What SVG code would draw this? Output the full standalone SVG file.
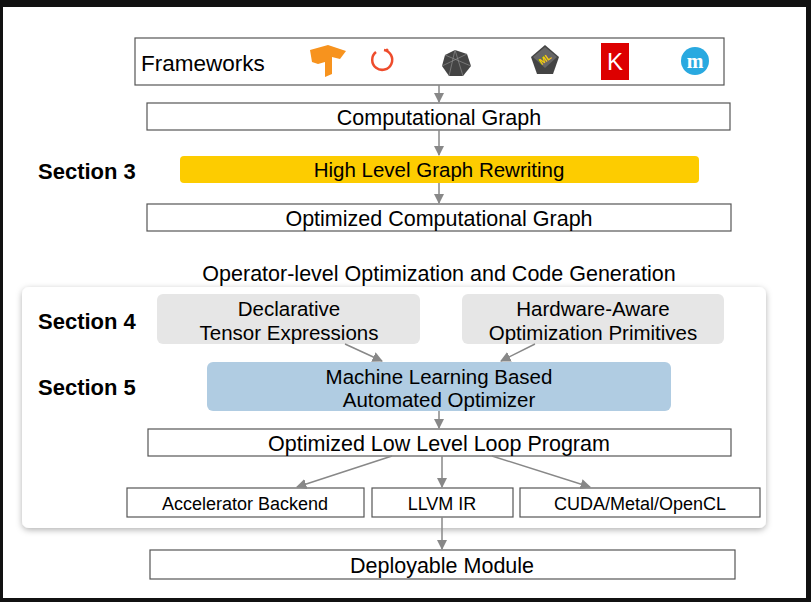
<svg xmlns="http://www.w3.org/2000/svg" width="811" height="602" viewBox="0 0 811 602">
<defs>
<style>
text{font-family:"Liberation Sans",Arial,sans-serif;fill:#000;text-anchor:middle}
.box{fill:#fff;stroke:#555;stroke-width:1.2}
.t{font-size:21.5px}
.m{font-size:20.5px}
.s{font-size:18px}
.sec{font-size:22px;font-weight:bold;text-anchor:start}
.c{stroke:#888;stroke-width:1.5;fill:none;marker-end:url(#ah)}
</style>
<marker id="ah" viewBox="0 0 10 10" refX="9" refY="5" markerWidth="7" markerHeight="7" orient="auto"><path d="M0,0L10,5L0,10z" fill="#888"/></marker>
<filter id="sh" x="-5%" y="-5%" width="110%" height="115%"><feDropShadow dx="0" dy="2" stdDeviation="3" flood-color="#000" flood-opacity="0.3"/></filter>
</defs>
<rect width="811" height="602" fill="#111"/>
<rect x="3" y="7" width="803" height="591" fill="#fff"/>
<g id="panel"><rect x="22" y="287" width="744" height="241" rx="7" fill="#fff" filter="url(#sh)"/></g>
<g id="frameworks">
<rect class="box" x="135" y="38" width="589" height="47"/>
<text x="141" y="71" style="font-size:22.5px;text-anchor:start">Frameworks</text>
<path d="M310,50 L328,45 L346,51 L340,59 L332,57 L332,74 L325,77 L325,62 L318,64 L312,62z" fill="#f7931e"/>
<path d="M384,50 A10,10 0 1 1 376,52" fill="none" stroke="#ee4c2c" stroke-width="2.5"/>
<circle cx="387" cy="50" r="1.5" fill="#ee4c2c"/>
<polygon points="455,50 467,54 471,66 463,76 449,76 442,66 445,55" fill="#444"/>
<path d="M455,50 L449,76 M445,55 L471,66 M467,54 L442,66 M455,50 L463,76" stroke="#999" stroke-width="0.6"/>
<polygon points="545,45 559,57 553,74 537,74 531,57" fill="#444"/>
<polygon points="545,47 557,57 545,68 533,57" fill="#666"/>
<text x="545" y="62" style="font-size:9px;fill:#f5d000;font-weight:bold" transform="rotate(-35 545 59)">ML</text>
<rect x="601" y="43" width="28" height="37" fill="#d00"/>
<text x="615" y="70" style="font-size:24px;fill:#fff">K</text>
<circle cx="695" cy="61" r="14" fill="#29a9e0"/>
<text x="695" y="68" style="font-size:20px;fill:#fff;font-family:'Liberation Serif',serif;font-weight:bold">m</text>
</g>
<g id="compgraph"><rect class="box" x="147" y="103" width="583" height="27"/><text x="439" y="125" class="t">Computational Graph</text></g>
<g id="sec3"><text x="38" y="179" class="sec">Section 3</text></g>
<g id="rewrite"><rect x="180" y="156" width="519" height="27" rx="4" fill="#fdcc00"/><text x="439" y="177" class="m">High Level Graph Rewriting</text></g>
<g id="optgraph"><rect class="box" x="147" y="204" width="584" height="27"/><text x="439" y="226" class="t">Optimized Computational Graph</text></g>
<g id="title"><text x="439" y="281" class="t">Operator-level Optimization and Code Generation</text></g>
<g id="sec4"><text x="38" y="329" class="sec">Section 4</text></g>
<g id="sec5"><text x="38" y="395" class="sec">Section 5</text></g>
<g id="decl"><rect x="157" y="294" width="263" height="50" rx="6" fill="#e6e6e6"/><text x="289" y="316" class="m">Declarative</text><text x="289" y="340" class="m">Tensor Expressions</text></g>
<g id="hw"><rect x="462" y="294" width="262" height="50" rx="6" fill="#e6e6e6"/><text x="593" y="316" class="m">Hardware-Aware</text><text x="593" y="340" class="m">Optimization Primitives</text></g>
<g id="ml"><rect x="207" y="362" width="464" height="49" rx="6" fill="#b0cce2"/><text x="439" y="384" class="m">Machine Learning Based</text><text x="439" y="407" class="m">Automated Optimizer</text></g>
<g id="lowlevel"><rect class="box" x="148" y="429" width="583" height="27"/><text x="439" y="451" class="t">Optimized Low Level Loop Program</text></g>
<g id="accel"><rect class="box" x="127" y="488" width="237" height="29"/><text x="245" y="510" class="s">Accelerator Backend</text></g>
<g id="llvm"><rect class="box" x="372" y="488" width="141" height="29"/><text x="442" y="510" class="s">LLVM IR</text></g>
<g id="cuda"><rect class="box" x="520" y="488" width="240" height="29"/><text x="640" y="510" class="s">CUDA/Metal/OpenCL</text></g>
<g id="deploy"><rect class="box" x="150" y="550" width="585" height="29"/><text x="442" y="573" class="t">Deployable Module</text></g>
<g id="connectors">
<line class="c" x1="439" y1="85" x2="439" y2="102"/>
<line class="c" x1="439" y1="130" x2="439" y2="155"/>
<line class="c" x1="439" y1="183" x2="439" y2="203"/>
<line class="c" x1="345" y1="344" x2="382" y2="361"/>
<line class="c" x1="535" y1="344" x2="501" y2="361"/>
<line class="c" x1="439" y1="411" x2="439" y2="428"/>
<line class="c" x1="392" y1="456" x2="297" y2="487"/>
<line class="c" x1="442" y1="456" x2="442" y2="487"/>
<line class="c" x1="492" y1="456" x2="590" y2="487"/>
<line class="c" x1="442" y1="517" x2="442" y2="549"/>
</g>
</svg>
